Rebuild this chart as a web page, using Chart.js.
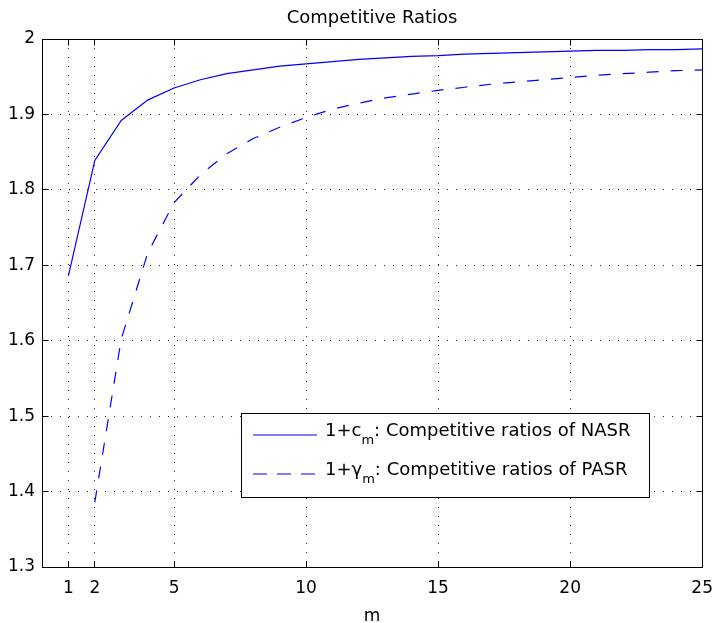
<!DOCTYPE html>
<html><head><meta charset="utf-8">
<script src="https://cdn.jsdelivr.net/npm/chart.js@4.4.0/dist/chart.umd.min.js"></script>
<style>html,body{margin:0;padding:0;background:#fff;} canvas{display:block;}</style>
</head><body>
<canvas id="c" width="724" height="623"></canvas>
<script>
// ---- data ----
const titleText = 'Competitive Ratios';
const xAxisLabel = 'm';
const mNASR = [1,2,3,4,5,6,7,8,9,10,11,12,13,14,15,16,17,18,19,20,21,22,23,24,25];
const valNASR = [1.686,1.839,1.892,1.919,1.935,1.946,1.954,1.959,1.964,1.967,1.970,1.973,1.975,1.977,1.978,1.980,1.981,1.982,1.983,1.984,1.985,1.985,1.986,1.986,1.987];
const mPASR = [2,3,4,5,6,7,8,9,10,11,12,13,14,15,16,17,18,19,20,21,22,23,24,25];
const valPASR = [1.386,1.602,1.716,1.783,1.820,1.848,1.868,1.883,1.896,1.907,1.915,1.922,1.927,1.932,1.936,1.940,1.943,1.946,1.949,1.952,1.954,1.956,1.958,1.959];
const xTicks = [1,2,5,10,15,20,25];
const yTicks = [1.3,1.4,1.5,1.6,1.7,1.8,1.9,2.0];
const yTickLabels = ['1.3','1.4','1.5','1.6','1.7','1.8','1.9','2'];
const legendMain = ['1+c','1+\u03b3'];
const legendSub = ['m','m'];
const legendRest = [': Competitive ratios of NASR', ': Competitive ratios of PASR'];

const FONT = '"DejaVu Sans", sans-serif';
const BLUE = 'rgb(0,0,255)';

function align(p){ return Math.round(p - 0.5) + 0.5; }

const framePlugin = {
  id: 'frame',
  beforeDraw(chart){
    const ctx = chart.ctx;
    ctx.save(); ctx.fillStyle = '#fff'; ctx.fillRect(0,0,chart.width,chart.height); ctx.restore();
  },
  afterDraw(chart){
    const {ctx, chartArea:a, scales:{x, y}} = chart;
    ctx.save();
    ctx.strokeStyle = '#000'; ctx.lineWidth = 1; ctx.setLineDash([]);
    const L = align(a.left), R = align(a.right), T = align(a.top), B = align(a.bottom);
    ctx.strokeRect(L, T, R - L, B - T);
    ctx.beginPath();
    xTicks.forEach(v => { const px = align(x.getPixelForValue(v)); ctx.moveTo(px,B); ctx.lineTo(px,B-6); ctx.moveTo(px,T); ctx.lineTo(px,T+6); });
    yTicks.forEach(v => { const py = align(y.getPixelForValue(v)); ctx.moveTo(L,py); ctx.lineTo(L+6,py); ctx.moveTo(R,py); ctx.lineTo(R-6,py); });
    ctx.stroke();
    // title
    ctx.fillStyle = '#000';
    ctx.font = '18px ' + FONT; ctx.textAlign = 'center'; ctx.textBaseline = 'alphabetic';
    ctx.fillText(titleText, (a.left + a.right) / 2, 23);
    // legend
    const bx = 241, by = 413, bw = 408, bh = 84;
    ctx.fillStyle = '#fff'; ctx.fillRect(bx, by, bw, bh);
    ctx.strokeStyle = '#000'; ctx.strokeRect(bx + 0.5, by + 0.5, bw, bh);
    const styles = [[], [14,10]];
    legendMain.forEach((t, i) => {
      const ly = 435 + i * 39;
      ctx.strokeStyle = BLUE; ctx.lineWidth = 1.2; ctx.setLineDash(styles[i]);
      ctx.beginPath(); ctx.moveTo(253, ly); ctx.lineTo(317, ly); ctx.stroke();
      ctx.setLineDash([]); ctx.lineWidth = 1;
      ctx.fillStyle = '#000'; ctx.textAlign = 'left'; ctx.textBaseline = 'alphabetic';
      let tx = 325;
      ctx.font = '18px ' + FONT; ctx.fillText(t, tx, ly + 1); tx += ctx.measureText(t).width;
      ctx.font = '13px ' + FONT; ctx.fillText(legendSub[i], tx, ly + 9); tx += ctx.measureText(legendSub[i]).width;
      ctx.font = '18px ' + FONT; ctx.fillText(legendRest[i], tx, ly + 1);
    });
    ctx.restore();
  }
};

new Chart(document.getElementById('c'), {
  type: 'line',
  data: {
    datasets: [
      { label: 'NASR', data: mNASR.map((m,i)=>({x:m, y:valNASR[i]})), borderColor: BLUE, borderWidth: 1.2, pointRadius: 0, tension: 0, fill: false },
      { label: 'PASR', data: mPASR.map((m,i)=>({x:m, y:valPASR[i]})), borderColor: BLUE, borderWidth: 1.2, borderDash: [12,12], pointRadius: 0, tension: 0, fill: false }
    ]
  },
  options: {
    responsive: false, animation: false, devicePixelRatio: 1,
    layout: { padding: { left: 0, right: 12, top: 39, bottom: 0 } },
    plugins: { legend: { display: false }, title: { display: false }, tooltip: { enabled: false } },
    scales: {
      x: {
        type: 'linear', min: 0, max: 25,
        afterBuildTicks: s => { s.ticks = xTicks.map(v => ({ value: v })); },
        afterFit: s => { s.height = 56; },
        grid: { color: 'rgba(0,0,0,0.85)', lineWidth: 1, drawTicks: false },
        border: { display: false, dash: [1,8] },
        ticks: { color: '#000', font: { family: FONT, size: 17 }, padding: 11, maxRotation: 0, autoSkip: false },
        title: { display: true, text: xAxisLabel, color: '#000', font: { family: FONT, size: 17 }, padding: { top: 0, bottom: -4 } }
      },
      y: {
        type: 'linear', min: 1.3, max: 2.0,
        afterBuildTicks: s => { s.ticks = yTicks.map(v => ({ value: v })); },
        afterFit: s => { s.width = 42; },
        grid: { color: 'rgba(0,0,0,0.85)', lineWidth: 1, drawTicks: false },
        border: { display: false, dash: [1,8] },
        ticks: { color: '#000', font: { family: FONT, size: 17 }, padding: 7, autoSkip: false,
          callback: (v, i) => yTickLabels[i] }
      }
    }
  },
  plugins: [framePlugin]
});
</script>
</body></html>
